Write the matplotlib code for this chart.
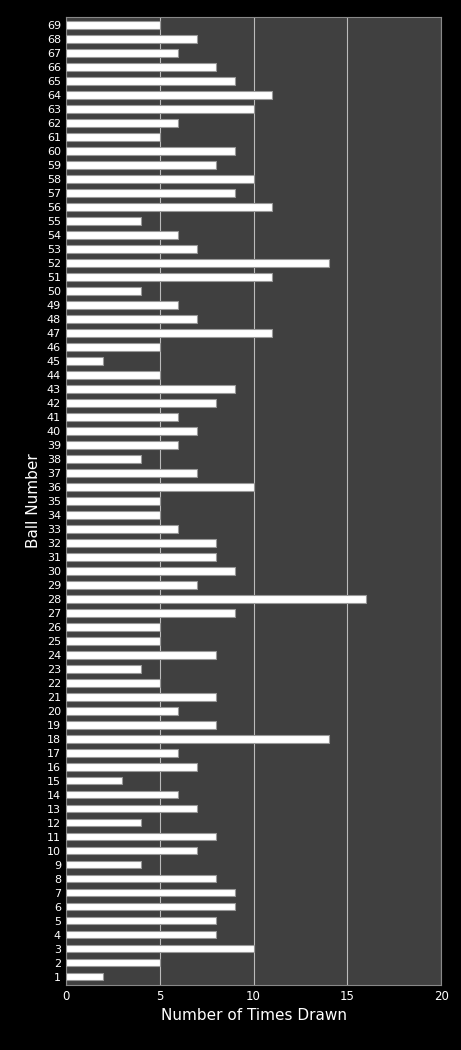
import matplotlib
matplotlib.use("Agg")
import matplotlib.pyplot as plt

balls = list(range(1, 70))
counts = [2,5,10,8,8,9,9,8,4,7,8,4,7,6,3,7,6,14,8,6,8,5,4,8,5,5,9,16,7,9,
          8,8,6,5,5,10,7,4,6,7,6,8,9,5,2,5,11,7,6,4,11,14,7,6,4,11,9,10,8,9,
          5,6,10,11,9,8,6,7,5]

fig = plt.figure(figsize=(4.61, 10.5), dpi=100, facecolor="black")
ax = fig.add_axes([0.143, 0.062, 0.814, 0.922])
ax.set_facecolor("#404040")
ax.barh(balls, counts, height=0.55, color="white", edgecolor="#999999", linewidth=0.8, zorder=3)
ax.set_xlim(0, 20)
ax.set_ylim(0.4, 69.6)
ax.set_xticks([0, 5, 10, 15, 20])
ax.set_yticks(balls)
ax.grid(axis="x", color="#bbbbbb", linewidth=0.8, zorder=0)
ax.tick_params(colors="white", labelsize=8.5, length=0)
ax.tick_params(axis="y", labelsize=8)
for s in ax.spines.values():
    s.set_color("#888888")
ax.set_xlabel("Number of Times Drawn", color="white", fontsize=11)
ax.set_ylabel("Ball Number", color="white", fontsize=11, labelpad=4)
fig.savefig("out.png", facecolor="black")
